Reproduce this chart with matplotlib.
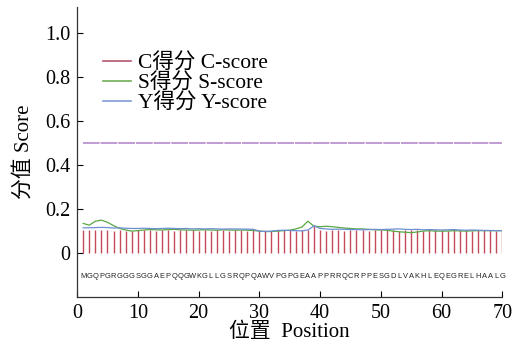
import matplotlib.pyplot as plt

plt.rcParams['font.family'] = ['Liberation Serif', 'Noto Sans CJK SC']

sequence = "MGQPGRGGGSGGAEPQQGWKGLLGSRQPQAWVPGPGEAAPPRRQCRPPESGDLVAKHLEQEGRELHAALG"
positions = list(range(1, 71))

c_score = [0.105, 0.105, 0.105, 0.105, 0.105, 0.100, 0.105, 0.100, 0.100, 0.105,
           0.105, 0.105, 0.100, 0.105, 0.105, 0.100, 0.105, 0.105, 0.105, 0.100,
           0.105, 0.100, 0.105, 0.105, 0.100, 0.105, 0.105, 0.100, 0.105, 0.105,
           0.105, 0.100, 0.105, 0.105, 0.105, 0.100, 0.105, 0.105, 0.130, 0.105,
           0.100, 0.105, 0.105, 0.100, 0.105, 0.105, 0.105, 0.100, 0.105, 0.105,
           0.105, 0.105, 0.100, 0.105, 0.105, 0.105, 0.100, 0.105, 0.105, 0.105,
           0.100, 0.105, 0.105, 0.105, 0.100, 0.105, 0.105, 0.105, 0.100, 0.100]

s_score = [0.135, 0.127, 0.145, 0.150, 0.140, 0.125, 0.112, 0.105, 0.100, 0.102,
           0.105, 0.107, 0.106, 0.105, 0.107, 0.108, 0.106, 0.105, 0.104, 0.105,
           0.106, 0.105, 0.104, 0.106, 0.105, 0.104, 0.105, 0.104, 0.103, 0.100,
           0.098, 0.098, 0.100, 0.102, 0.104, 0.110, 0.118, 0.145, 0.122, 0.120,
           0.122, 0.120, 0.117, 0.114, 0.112, 0.110, 0.110, 0.108, 0.106, 0.105,
           0.104, 0.100, 0.097, 0.095, 0.093, 0.096, 0.100, 0.102, 0.100, 0.100,
           0.100, 0.102, 0.101, 0.100, 0.101, 0.102, 0.102, 0.102, 0.102, 0.102]

y_score = [0.115, 0.115, 0.116, 0.117, 0.116, 0.114, 0.115, 0.113, 0.112, 0.112,
           0.113, 0.112, 0.111, 0.112, 0.113, 0.112, 0.111, 0.112, 0.110, 0.111,
           0.110, 0.111, 0.110, 0.109, 0.110, 0.110, 0.109, 0.109, 0.108, 0.100,
           0.098, 0.100, 0.103, 0.104, 0.103, 0.102, 0.101, 0.105, 0.124, 0.112,
           0.110, 0.108, 0.109, 0.108, 0.107, 0.107, 0.106, 0.107, 0.108, 0.107,
           0.108, 0.109, 0.110, 0.108, 0.107, 0.108, 0.106, 0.107, 0.106, 0.105,
           0.106, 0.107, 0.105, 0.104, 0.105, 0.104, 0.103, 0.103, 0.102, 0.102]

cutoff = 0.5

fig = plt.figure(figsize=(5.21, 3.45), dpi=100)
ax = fig.add_axes([0.148, 0.139, 0.816, 0.841])

ax.vlines(positions, 0, c_score, color='#c24a5a', linewidth=1.0)
ax.plot(positions, s_score, color='#5aa845', linewidth=0.9)
ax.plot(positions, y_score, color='#6d8fd2', linewidth=0.9)
ax.plot([1, 70], [cutoff, cutoff], color='#b48acb', linewidth=1.2,
        linestyle=(0, (10, 0.6)))

# sequence letters under the bars
for p, aa in zip(positions, sequence):
    ax.text(p, -0.105, aa, ha='center', va='center', fontsize=5.4,
            family='Liberation Sans', color='#222222')

# legend handles
ax.plot([], [], color='#b5566d', linewidth=1.2, label='C得分 C-score')
ax.plot([], [], color='#6fae55', linewidth=1.2, label='S得分 S-score')
ax.plot([], [], color='#7f9cd6', linewidth=1.2, label='Y得分 Y-score')
handles, labels = ax.get_legend_handles_labels()
ax.legend(handles[-3:], labels[-3:], loc='upper left', bbox_to_anchor=(0.04, 0.87),
          frameon=False, fontsize=15.5, handlelength=1.3, handletextpad=0.35,
          labelspacing=0.0, borderaxespad=0)

ax.set_xlim(0, 70)
ax.set_ylim(-0.2, 1.12)
ax.set_xticks([0, 10, 20, 30, 40, 50, 60, 70])
ax.set_yticks([0, 0.2, 0.4, 0.6, 0.8, 1.0])
ax.set_yticklabels(['0', '0.2', '0.4', '0.6', '0.8', '1.0'])
ax.tick_params(direction='in', labelsize=14.5, length=4, width=0.8, pad=5)
ax.spines['top'].set_visible(False)
ax.spines['right'].set_visible(False)
for s in ['left', 'bottom']:
    ax.spines[s].set_linewidth(0.9)
    ax.spines[s].set_color('#333333')

ax.set_xlabel('位置  Position', fontsize=15, labelpad=0)
ax.set_ylabel('分值 Score', fontsize=15, labelpad=8)

fig.savefig('out.png', dpi=100)
